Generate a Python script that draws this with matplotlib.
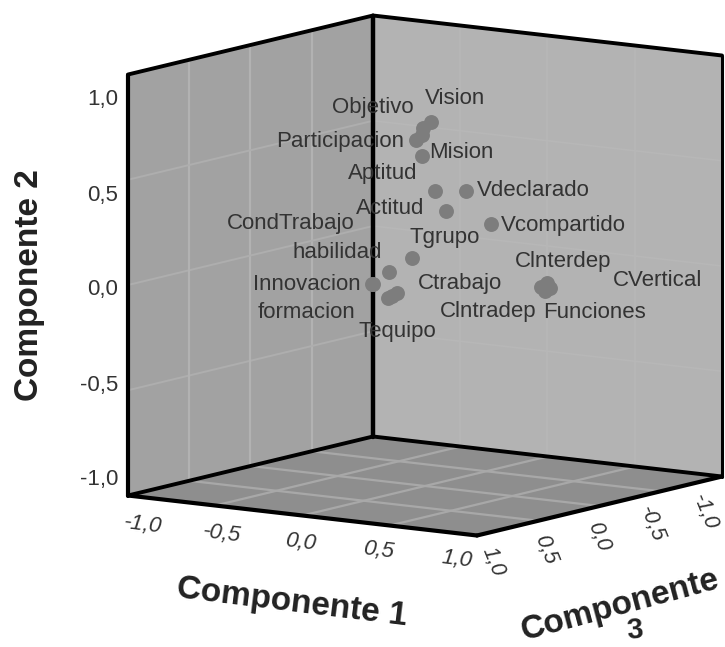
import matplotlib
matplotlib.use('Agg')
import matplotlib.pyplot as plt
import numpy as np
from matplotlib.patches import Polygon

plt.rcParams['font.family'] = ['Liberation Sans', 'DejaVu Sans']

# component loadings
comp1 = [0.245, 0.199, 0.193, 0.159, 0.193, 0.198, 0.305, 0.261, 0.413, 0.136,
         0.074, 0.053, 0.047, 0.069, 0.120, 0.092, 0.595, 0.629, 0.646, 0.618]
comp2 = [0.795, 0.762, 0.728, 0.701, 0.628, 0.448, 0.444, 0.359, 0.291, 0.138,
         0.080, 0.035, 0.034, -0.044, -0.016, -0.033, -0.012, 0.010, -0.012, -0.029]
comp3 = [0.30, 0.30, 0.30, 0.30, 0.30, 0.20, 0.10, 0.20, 0.05, 0.30,
         0.40, 0.50, 0.50, 0.40, 0.40, 0.40, -0.10, -0.10, -0.10, -0.10]

names = ['Vision', 'Objetivo', 'Participacion', 'Mision', 'Aptitud', 'Vdeclarado',
         'Actitud', 'Vcompartido', 'CondTrabajo', 'Tgrupo', 'habilidad', 'Ctrabajo',
         'Innovacion', 'Clntradep', 'formacion', 'Tequipo', 'Clnterdep', 'CVertical',
         'Funciones']
ticks = [-1.0, -0.5, 0.0, 0.5, 1.0]

# where the names sit, in pixels
name_xy = [(455, 98), (373, 108), (340, 142), (461, 152), (383, 173), (533, 191),
           (390, 208), (563, 225), (291, 223), (445, 238), (337, 253), (460, 283),
           (307, 284), (488, 312), (307, 313), (397, 332), (563, 261), (658, 281),
           (595, 313)]

W, H = 725, 647
CENTER = np.array([425., 275.5])
E1 = np.array([174.5, 20.])
E2 = np.array([0., -210.5])
E3 = np.array([-122.5, 29.5])


def project(c1, c2, c3):
    return CENTER + np.multiply.outer(c1, E1) + np.multiply.outer(c2, E2) + np.multiply.outer(c3, E3)


def face(ax, corners, color):
    ax.add_patch(Polygon([project(*c) for c in corners], closed=True, fc=color, ec='none', zorder=1))


def seg(ax, a, b, color, lw, z=2):
    p = project(*a)
    q = project(*b)
    ax.plot([p[0], q[0]], [p[1], q[1]], color=color, lw=lw, zorder=z, solid_capstyle='round')


def fmt(t):
    return ('%.1f' % t).replace('.', ',')


fig = plt.figure(figsize=(W / 100, H / 100), dpi=100, facecolor='white')
ax = fig.add_axes([0, 0, 1, 1])
ax.set_xlim(0, W)
ax.set_ylim(H, 0)
ax.axis('off')

face(ax, [(-1, -1, 1), (-1, 1, 1), (-1, 1, -1), (-1, -1, -1)], '#a2a2a2')
face(ax, [(-1, -1, -1), (-1, 1, -1), (1, 1, -1), (1, -1, -1)], '#b3b3b3')
face(ax, [(-1, -1, 1), (1, -1, 1), (1, -1, -1), (-1, -1, -1)], '#8e8e8e')

for t in ticks[1:-1]:
    # left wall
    seg(ax, (-1, -1, t), (-1, 1, t), '#b2b2b2', 1.6)
    seg(ax, (-1, t, 1), (-1, t, -1), '#aeaeae', 1.4)
    # right wall, barely visible
    seg(ax, (t, -1, -1), (t, 1, -1), '#b7b7b7', 1.2)
    seg(ax, (-1, t, -1), (1, t, -1), '#b7b7b7', 1.2)
    # floor
    seg(ax, (t, -1, 1), (t, -1, -1), '#a8a8a8', 1.6)
    seg(ax, (-1, -1, t), (1, -1, t), '#a8a8a8', 1.6)

edges = [((-1, -1, 1), (1, -1, 1), 3.0), ((1, -1, 1), (1, -1, -1), 3.0),
         ((-1, -1, 1), (-1, -1, -1), 2.8), ((-1, -1, -1), (1, -1, -1), 2.8),
         ((-1, -1, 1), (-1, 1, 1), 3.0), ((-1, -1, -1), (-1, 1, -1), 3.2),
         ((1, -1, -1), (1, 1, -1), 2.2), ((-1, 1, 1), (-1, 1, -1), 2.8),
         ((-1, 1, -1), (1, 1, -1), 2.8)]
for a, b, lw in edges:
    seg(ax, a, b, 'black', lw, z=3)

pts = project(np.array(comp1), np.array(comp2), np.array(comp3))
ax.scatter(pts[:, 0], pts[:, 1], s=115, color='#7d7d7d', linewidths=0, zorder=4)

for name, (x, y) in zip(names, name_xy):
    ax.text(x, y, name, fontsize=16, color='#333333', ha='center', va='center', zorder=5)

# vertical axis
for i, t in enumerate(ticks):
    ax.text(118, 480 - 95 * i, fmt(t), fontsize=16, color='#333333', ha='right', va='center')
ax.text(30, 285, 'Componente 2', fontsize=24, fontweight='bold', color='#222222',
        rotation=90, ha='center', va='center')

# floor axes, tick labels follow the perspective of the original
for i, t in enumerate(ticks):
    ax.text(143 + 78.5 * i, 525 + 8.5 * i, fmt(t), fontsize=16,
            style='italic', color='#333333', rotation=-7, ha='center', va='center')
for i, t in enumerate(ticks[::-1]):
    ax.text(493 + 53 * i, 562 - 12.5 * i, fmt(t), fontsize=15.5,
            style='italic', color='#333333', rotation=-68, ha='center', va='center')

ax.text(292, 603, 'Componente 1', fontsize=24, fontweight='bold', color='#222222',
        rotation=-7, ha='center', va='center')
ax.text(620, 606, 'Componente', fontsize=24, fontweight='bold', color='#222222',
        rotation=15, ha='center', va='center')
ax.text(635, 630, '3', fontsize=21, fontweight='bold', color='#222222',
        rotation=5, ha='center', va='center')

fig.savefig('out.png', dpi=100)
